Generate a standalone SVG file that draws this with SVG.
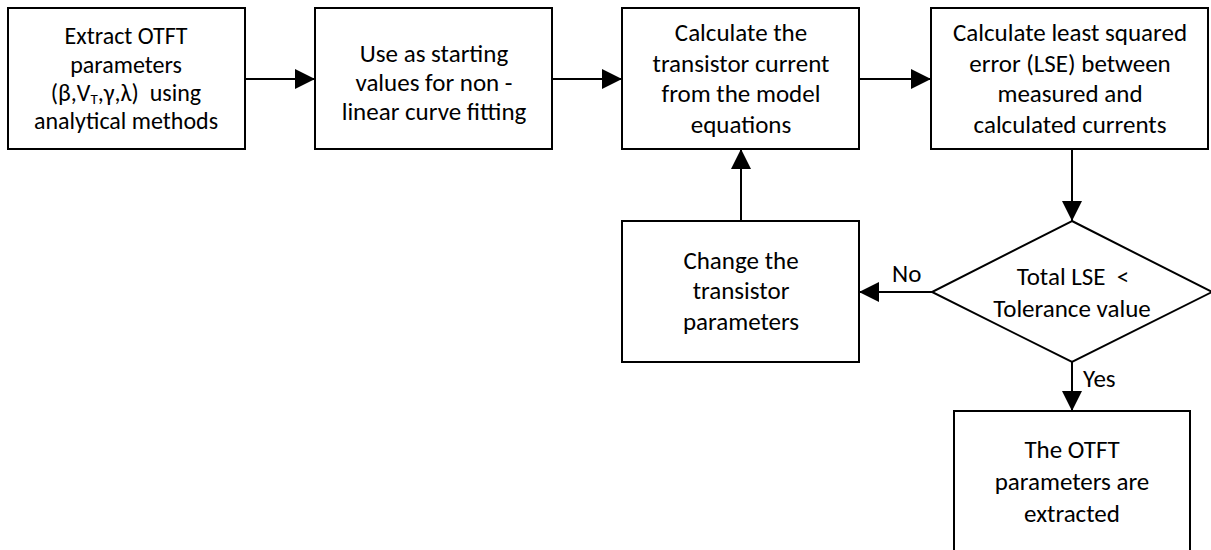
<svg xmlns="http://www.w3.org/2000/svg" width="1211" height="550" viewBox="0 0 1211 550">
  <style>
    .box { fill: #ffffff; stroke: #000000; stroke-width: 2; }
    .lbl { font-family: Carlito, Calibri, Lato, "Liberation Sans", sans-serif; font-size: 25px; fill: #000000; text-anchor: middle; white-space: pre; }
    .sm { font-size: 24px; }
    .tag { font-family: Carlito, Calibri, Lato, "Liberation Sans", sans-serif; font-size: 25px; fill: #000000; }
    .edge { fill: none; stroke: #000000; stroke-width: 2; marker-end: url(#arrow); }
  </style>
  <defs>
    <marker id="arrow" markerUnits="userSpaceOnUse" markerWidth="20" markerHeight="20" refX="20" refY="10" orient="auto">
      <path d="M0,0 L20,10 L0,20 Z" fill="#000000"/>
    </marker>
  </defs>

  <rect width="1211" height="550" fill="#ffffff"/>

  <g id="connectors">
    <line class="edge" x1="245" y1="79" x2="315" y2="79"/>
    <line class="edge" x1="552" y1="79" x2="622" y2="79"/>
    <line class="edge" x1="859" y1="79" x2="931" y2="79"/>
    <line class="edge" x1="1072" y1="149" x2="1072" y2="221"/>
    <line class="edge" x1="932" y1="292" x2="859" y2="292"/>
    <line class="edge" x1="741" y1="221" x2="741" y2="149"/>
    <line class="edge" x1="1072" y1="362" x2="1072" y2="411"/>
    <text class="tag" x="892" y="282">No</text>
    <text class="tag" x="1083" y="387">Yes</text>
  </g>

  <g id="extract">
    <rect class="box" x="8" y="8" width="237" height="141"/>
    <text class="lbl sm" x="126" y="44">Extract OTFT</text>
    <text class="lbl sm" x="126" y="73">parameters</text>
    <text class="lbl sm" x="126" y="101">(β,V<tspan font-size="15" dy="3">T</tspan><tspan dy="-3">,γ,λ)  using</tspan></text>
    <text class="lbl sm" x="126" y="129">analytical methods</text>
  </g>

  <g id="start-values">
    <rect class="box" x="315" y="8" width="237" height="141"/>
    <text class="lbl" x="434" y="62">Use as starting</text>
    <text class="lbl" x="434" y="91">values for non -</text>
    <text class="lbl" x="434" y="120">linear curve fitting</text>
  </g>

  <g id="calc-current">
    <rect class="box" x="622" y="8" width="237" height="141"/>
    <text class="lbl" x="741" y="41">Calculate the</text>
    <text class="lbl" x="741" y="72">transistor current</text>
    <text class="lbl" x="741" y="102">from the model</text>
    <text class="lbl" x="741" y="133">equations</text>
  </g>

  <g id="calc-lse">
    <rect class="box" x="931" y="8" width="277" height="141"/>
    <text class="lbl" x="1070" y="41">Calculate least squared</text>
    <text class="lbl" x="1070" y="72">error (LSE) between</text>
    <text class="lbl" x="1070" y="102">measured and</text>
    <text class="lbl" x="1070" y="133">calculated currents</text>
  </g>

  <g id="change-params">
    <rect class="box" x="622" y="221" width="237" height="141"/>
    <text class="lbl" x="741" y="269">Change the</text>
    <text class="lbl" x="741" y="299">transistor</text>
    <text class="lbl" x="741" y="330">parameters</text>
  </g>

  <g id="tolerance-check">
    <polygon class="box" points="1072,221 1212,292 1072,362 932,292"/>
    <text class="lbl" x="1073" y="285">Total LSE  &lt;</text>
    <text class="lbl" x="1072" y="317">Tolerance value</text>
  </g>

  <g id="done">
    <rect class="box" x="954" y="411" width="236" height="150"/>
    <text class="lbl" x="1072" y="458">The OTFT</text>
    <text class="lbl" x="1072" y="490">parameters are</text>
    <text class="lbl" x="1072" y="522">extracted</text>
  </g>
</svg>
